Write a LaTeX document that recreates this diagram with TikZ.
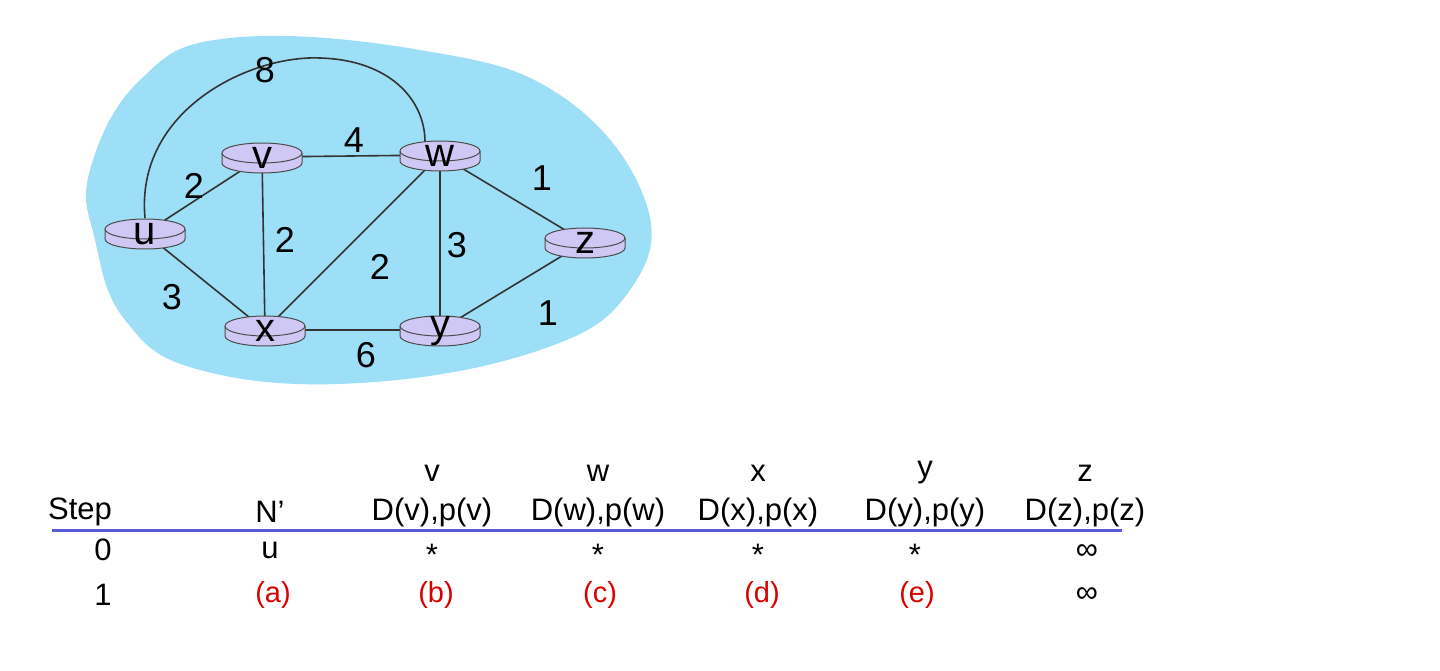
\documentclass[tikz,border=0pt]{standalone}
\usepackage{fontspec}
\setmainfont{Liberation Sans}
\definecolor{cloud}{HTML}{9DDFF7}
\definecolor{rtr}{HTML}{CFC8F5}
\definecolor{tbl}{HTML}{5A5AD8}
\begin{document}
\begin{tikzpicture}[x=1pt,y=-1pt,
  edge/.style={draw=black!80,line width=1.6pt},
  wlab/.style={font=\fontsize{36}{36}\selectfont},
  th/.style={font=\fontsize{31}{31}\selectfont},
  red/.style={text=red!85!black,font=\fontsize{29}{29}\selectfont}]
\useasboundingbox (0,0) rectangle (1440,671);
\fill[cloud] plot[smooth cycle,tension=0.7] coordinates {(230,38) (420,50) (560,95) (645,200) (630,290) (540,350) (360,383) (200,370) (125,320) (95,240) (90,170) (140,80)};
\newcommand{\router}[4]{%
  \node[minimum width=80pt,minimum height=30pt,inner sep=0pt] (#1) at (#2,#3) {};
  \fill[rtr,draw=black!70,line width=1pt] (#2-40,#3-4) -- (#2-40,#3+6) arc[start angle=180,end angle=0,x radius=40,y radius=10] -- (#2+40,#3-4) arc[start angle=0,end angle=-180,x radius=40,y radius=10] -- cycle;
  \draw[black!70,line width=1pt] (#2-40,#3-4) arc[start angle=180,end angle=0,x radius=40,y radius=10];
  \node[font=\fontsize{40}{40}\selectfont,inner sep=0pt] at (#2,#3+1) {#4};}
% edges
\coordinate (ut) at (145,218);
\coordinate (wt) at (425,142);
\draw[edge] (ut) .. controls (135,110) and (250,55) .. (320,58) .. controls (390,60) and (425,100) .. (wt);
\draw[edge] (145,233) -- (262,157);
\draw[edge] (262,157) -- (440,155);
\draw[edge] (440,155) -- (585,242);
\draw[edge] (262,157) -- (265,330);
\draw[edge] (440,155) -- (265,330);
\draw[edge] (440,155) -- (440,330);
\draw[edge] (145,233) -- (265,330);
\draw[edge] (265,330) -- (440,330);
\draw[edge] (440,330) -- (585,242);
\router{u}{145}{233}{u}
\router{v}{262}{157}{v}
\router{w}{440}{155}{w}
\router{z}{585}{242}{z}
\router{x}{265}{330}{x}
\router{y}{440}{330}{y}
\node[wlab] at (265,70) {8};
\node[wlab] at (194,186) {2};
\node[wlab] at (354,140) {4};
\node[wlab] at (542,178) {1};
\node[wlab] at (285,240) {2};
\node[wlab] at (380,267) {2};
\node[wlab] at (457,245) {3};
\node[wlab] at (172,297) {3};
\node[wlab] at (366,355) {6};
\node[wlab] at (548,313) {1};
% table
\foreach \n/\xx in {v/432,w/598,x/758,y/925,z/1085}{
  \node[th] (h\n) at (\xx,473) {\n};
  \node[th] (d\n) at (\xx,512) {D(\n),p(\n)};}
\node[th] (step) at (80,512) {Step};
\node[th] (np) at (270,512) {N'};
\coordinate (la) at (52,530); \coordinate (lb) at (1122,530);
\draw[tbl,line width=3pt] (la) -- (lb);
\node[th] at (103,550) {0};
\node[th] at (270,550) {u};
\foreach \xx in {432,598,758,915}{\node[th] at (\xx,555) {*};}
\node[th] at (1087,552) {∞};
\node[th] at (103,595) {1};
\foreach \l/\xx in {a/273,b/436,c/600,d/762,e/917}{\node[red] at (\xx,595) {(\l)};}
\node[th] at (1087,595) {∞};
\end{tikzpicture}
\end{document}
